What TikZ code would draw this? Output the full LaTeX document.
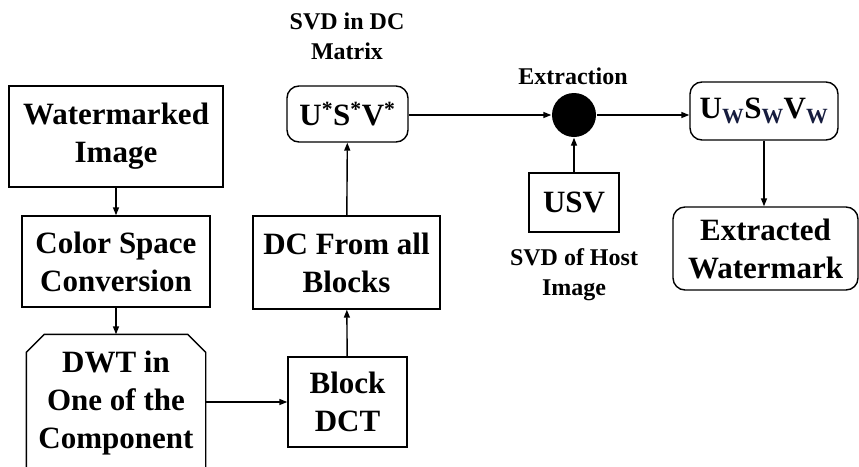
\documentclass[tikz,border=0pt]{standalone}
\usepackage{fontspec}
\setmainfont{Liberation Serif}
\usetikzlibrary{arrows.meta, positioning, calc}

\definecolor{subnavy}{RGB}{22,28,62}
\newcommand{\boxfont}{\fontsize{31}{38}\selectfont\bfseries}
\newcommand{\lblfont}{\fontsize{24}{30}\selectfont\bfseries}

\begin{document}
\begin{tikzpicture}[x=1pt, y=-1pt, line width=1.4pt,
    box/.style={rectangle, draw, align=center, font=\boxfont, inner sep=2pt},
    rbox/.style={box, rounded corners=12pt},
    lbl/.style={align=center, font=\lblfont, inner sep=0pt},
    arr/.style={-{Triangle[length=8pt, width=6pt]}}]
    % frame of the picture
    \useasboundingbox (0,0) rectangle (859,466);

    % Left column: input chain
    \node[box, minimum width=214pt, minimum height=101pt] (wimg) at (116,136.5) {Watermarked\\Image};
    \node[box, minimum width=188pt, minimum height=91pt] (csc) at (116,261.5) {Color Space\\Conversion};
    \node[align=center, font=\boxfont, minimum width=178pt, minimum height=136pt] (dwt) at (116,403) {DWT in\\One of the\\Component};
    % chamfered outline, open at the bottom edge
    \draw ([yshift=-25pt]dwt.south west) -- ([yshift=-18pt]dwt.north west)
        -- ([xshift=18pt]dwt.north west) -- ([xshift=-18pt]dwt.north east)
        -- ([yshift=-18pt]dwt.north east) -- ([yshift=-25pt]dwt.south east);

    % Middle column: DCT and SVD
    \node[box, minimum width=119pt, minimum height=90pt] (bdct) at (347.5,402) {Block\\DCT};
    \node[box, minimum width=187pt, minimum height=93pt] (dcall) at (346.5,262.5) {DC From all\\Blocks};
    \node[rbox, minimum width=121pt, minimum height=56pt] (usvstar) at (347.5,114)
        {U\textsuperscript{*}S\textsuperscript{*}V\textsuperscript{*}};
    \node[lbl] (svddc) at (347,36) {SVD in DC\\Matrix};

    % Extraction point
    \node[circle, fill=black, minimum size=44pt, inner sep=0pt] (extr) at (574,115) {};
    \node[lbl] (extrlbl) at (573,76) {Extraction};
    \node[box, minimum width=90pt, minimum height=59pt] (usv) at (574,202.5) {USV};
    \node[lbl] (svdhost) at (574,275) {SVD of Host\\Image};

    % Right column: output
    \node[rbox, minimum width=148pt, minimum height=58pt] (uw) at (764,111)
        {U\textsubscript{\color{subnavy}W}S\textsubscript{\color{subnavy}W}V\textsubscript{\color{subnavy}W}};
    \node[rbox, minimum width=185pt, minimum height=83pt] (ext) at (765.5,248.5) {Extracted\\Watermark};

    % Connections
    \draw[arr] (wimg) -- (csc);
    \draw[arr] (csc) -- (csc.south |- dwt.north);
    \draw[arr] (dwt.east |- bdct.west) -- (bdct.west);
    \draw[arr] (bdct) -- (dcall);
    \draw[arr] (dcall) -- (usvstar);
    \draw[arr] (usvstar.east |- extr.west) -- (extr.west);
    \draw[arr] (usv) -- (extr);
    \draw[arr] (extr.east) -- (extr.east -| uw.west);
    \draw[arr] (uw.south) -- (uw.south |- ext.north);
\end{tikzpicture}
\end{document}
